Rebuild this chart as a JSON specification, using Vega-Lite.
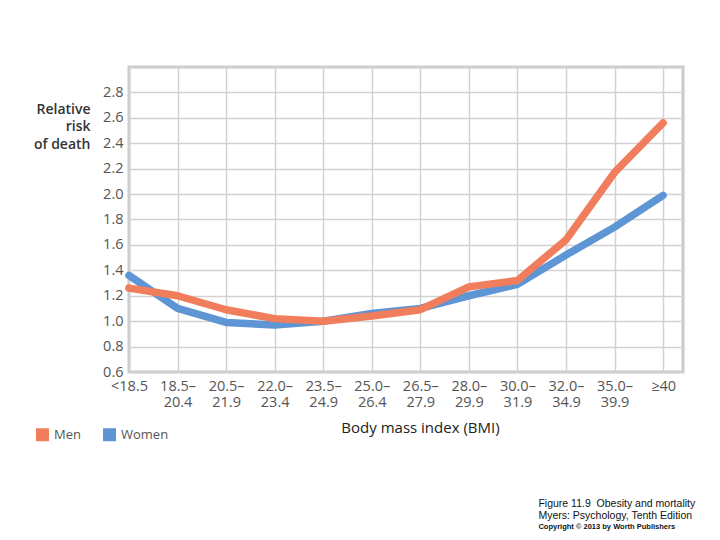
{
  "$schema": "https://vega.github.io/schema/vega-lite/v6.json",
  "width": 554,
  "height": 305,
  "autosize": {"type": "none"},
  "padding": {"left": 129, "top": 67, "right": 37, "bottom": 168},
  "background": "white",
  "config": {
    "view": {"stroke": "#cacaca", "strokeWidth": 3},
    "font": "Open Sans"
  },
  "title": {
    "text": ["Figure 11.9\u00a0 Obesity and mortality", "Myers: Psychology, Tenth Edition"],
    "subtitle": "Copyright © 2013 by Worth Publishers",
    "orient": "bottom",
    "anchor": "start",
    "dx": 505,
    "offset": 57,
    "font": "Liberation Sans",
    "fontSize": 10.5,
    "fontWeight": "normal",
    "color": "#111",
    "lineHeight": 12,
    "subtitleFont": "Liberation Sans",
    "subtitleFontSize": 7.5,
    "subtitleFontWeight": "bold",
    "subtitleColor": "#111",
    "subtitlePadding": 1
  },
  "data": {
    "values": [
      {"idx": 0, "sex": "Women", "risk": 1.36},
      {"idx": 1, "sex": "Women", "risk": 1.10},
      {"idx": 2, "sex": "Women", "risk": 0.99},
      {"idx": 3, "sex": "Women", "risk": 0.97},
      {"idx": 4, "sex": "Women", "risk": 1.00},
      {"idx": 5, "sex": "Women", "risk": 1.06},
      {"idx": 6, "sex": "Women", "risk": 1.10},
      {"idx": 7, "sex": "Women", "risk": 1.20},
      {"idx": 8, "sex": "Women", "risk": 1.29},
      {"idx": 9, "sex": "Women", "risk": 1.52},
      {"idx": 10, "sex": "Women", "risk": 1.74},
      {"idx": 11, "sex": "Women", "risk": 1.99},
      {"idx": 0, "sex": "Men", "risk": 1.26},
      {"idx": 1, "sex": "Men", "risk": 1.20},
      {"idx": 2, "sex": "Men", "risk": 1.09},
      {"idx": 3, "sex": "Men", "risk": 1.02},
      {"idx": 4, "sex": "Men", "risk": 1.00},
      {"idx": 5, "sex": "Men", "risk": 1.04},
      {"idx": 6, "sex": "Men", "risk": 1.09},
      {"idx": 7, "sex": "Men", "risk": 1.27},
      {"idx": 8, "sex": "Men", "risk": 1.32},
      {"idx": 9, "sex": "Men", "risk": 1.64},
      {"idx": 10, "sex": "Men", "risk": 2.17},
      {"idx": 11, "sex": "Men", "risk": 2.56}
    ]
  },
  "mark": {"type": "line", "strokeWidth": 7.5, "strokeCap": "round", "strokeJoin": "round"},
  "encoding": {
    "x": {
      "field": "idx",
      "type": "quantitative",
      "scale": {"domain": [0, 11.41], "nice": false, "zero": false},
      "axis": {
        "values": [0, 1, 2, 3, 4, 5, 6, 7, 8, 9, 10, 11],
        "labelExpr": "[['<18.5'], ['18.5–', '20.4'], ['20.5–', '21.9'], ['22.0–', '23.4'], ['23.5–', '24.9'], ['25.0–', '26.4'], ['26.5–', '27.9'], ['28.0–', '29.9'], ['30.0–', '31.9'], ['32.0–', '34.9'], ['35.0–', '39.9'], ['≥40']][datum.value]",
        "domain": false,
        "ticks": false,
        "grid": true,
        "gridColor": "#d2d2d2",
        "gridWidth": 1.5,
        "labelFont": "Open Sans",
        "labelFontSize": 14.5,
        "labelColor": "#555",
        "labelLineHeight": 16,
        "labelPadding": 7,
        "labelOverlap": false,
        "labelFlush": false,
        "title": "Body mass index (BMI)",
        "titleFont": "Open Sans",
        "titleFontSize": 15,
        "titleFontWeight": 500,
        "titleColor": "#222",
        "titleX": 291,
        "titleY": 60,
        "titleAlign": "center",
        "titleBaseline": "alphabetic"
      }
    },
    "y": {
      "field": "risk",
      "type": "quantitative",
      "scale": {"domain": [0.6, 3.0], "nice": false, "zero": false},
      "axis": {
        "values": [0.6, 0.8, 1.0, 1.2, 1.4, 1.6, 1.8, 2.0, 2.2, 2.4, 2.6, 2.8, 3.0],
        "labelExpr": "datum.value > 2.9 ? '' : format(datum.value, '.1f')",
        "domain": false,
        "ticks": false,
        "grid": true,
        "gridColor": "#d2d2d2",
        "gridWidth": 1.5,
        "labelFont": "Open Sans",
        "labelFontSize": 14.5,
        "labelColor": "#555",
        "labelPadding": 6,
        "title": ["Relative", "risk", "of death"],
        "titleFont": "Open Sans",
        "titleFontSize": 14,
        "titleFontWeight": 600,
        "titleColor": "#333",
        "titleAngle": 0,
        "titleAlign": "right",
        "titleBaseline": "alphabetic",
        "titleLineHeight": 17.5,
        "titleX": -39,
        "titleY": 46
      }
    },
    "color": {
      "field": "sex",
      "type": "nominal",
      "scale": {"domain": ["Men", "Women"], "range": ["#f07e5c", "#5e95d4"]},
      "legend": {
        "title": null,
        "orient": "none",
        "direction": "horizontal",
        "legendX": -93,
        "legendY": 361,
        "symbolType": "square",
        "symbolSize": 169,
        "symbolStrokeWidth": 0,
        "symbolOpacity": 1,
        "labelFont": "Open Sans",
        "labelFontSize": 13,
        "labelColor": "#555",
        "labelOffset": 5,
        "columnPadding": 22,
        "encode": {
          "symbols": {
            "update": {
              "fill": {"scale": "color", "field": "value"},
              "fillOpacity": {"value": 1}
            }
          }
        }
      }
    }
  }
}
